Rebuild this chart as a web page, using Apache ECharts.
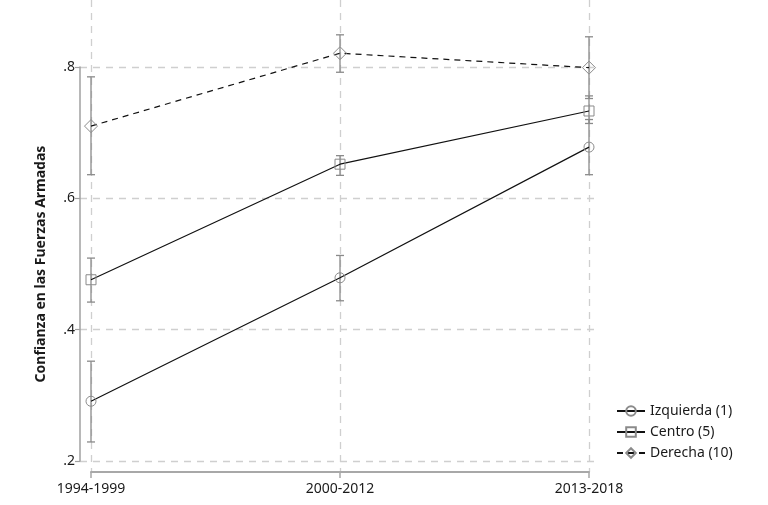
<!DOCTYPE html>
<html><head><meta charset="utf-8">
<script src="https://cdn.jsdelivr.net/npm/echarts@6/dist/echarts.min.js"></script>
<style>html,body{margin:0;padding:0;background:#fff}#c{width:768px;height:505px}</style>
</head><body><div id="c"></div>
<script>
const categories = ['1994-1999', '2000-2012', '2013-2018'];
const yTicks = [0.2, 0.4, 0.6, 0.8];
const izquierda = [0.291, 0.479, 0.678];
const izquierdaLow = [0.229, 0.444, 0.636];
const izquierdaHigh = [0.352, 0.513, 0.720];
const centro = [0.476, 0.652, 0.733];
const centroLow = [0.442, 0.635, 0.714];
const centroHigh = [0.509, 0.665, 0.756];
const derecha = [0.710, 0.821, 0.799];
const derechaLow = [0.636, 0.792, 0.752];
const derechaHigh = [0.785, 0.849, 0.846];

const FONT = 'Noto Sans';
const chart = echarts.init(document.getElementById('c'));

function errData(lo, hi) { return categories.map((c, i) => [i, lo[i], hi[i]]); }
function errSeries(lo, hi) {
  return {
    type: 'custom', xAxisIndex: 2, yAxisIndex: 2, z: 1, silent: true,
    data: errData(lo, hi),
    renderItem: function (params, api) {
      const x = api.value(0);
      const a = api.coord([x, api.value(1)]);
      const b = api.coord([x, api.value(2)]);
      const w = 4;
      const st = { stroke: '#8a8a8a', lineWidth: 1.3 };
      return { type: 'group', children: [
        { type: 'line', shape: { x1: a[0], y1: a[1], x2: b[0], y2: b[1] }, style: st },
        { type: 'line', shape: { x1: a[0] - w, y1: a[1], x2: a[0] + w, y2: a[1] }, style: st },
        { type: 'line', shape: { x1: b[0] - w, y1: b[1], x2: b[0] + w, y2: b[1] }, style: st }
      ]};
    }
  };
}
function lineSeries(name, data, symbol, size, dashed) {
  return {
    name: name, type: 'line', xAxisIndex: 2, yAxisIndex: 2, z: 3,
    data: data, symbol: symbol, symbolSize: size, clip: false,
    lineStyle: { color: '#111', width: 1.2, type: dashed ? [6, 5] : 'solid' },
    itemStyle: { color: 'rgba(255,255,255,0)', borderColor: '#8a8a8a', borderWidth: 1 },
    emphasis: { disabled: true }
  };
}

const option = {
  animation: false,
  textStyle: { fontFamily: FONT },
  grid: [
    { left: 80, right: 168, top: 67, bottom: 44 },
    { left: 91, right: 179, top: 0, bottom: 33 },
    { left: 91, right: 179, top: 67, bottom: 44 }
  ],
  xAxis: [
    { gridIndex: 0, type: 'value', show: false, min: 0, max: 1 },
    { gridIndex: 1, type: 'category', data: categories, boundaryGap: false,
      axisLine: { show: true, lineStyle: { color: '#a8a8a8', width: 2 } },
      axisTick: { show: true, length: 6, lineStyle: { color: '#a8a8a8', width: 1.5 } },
      axisLabel: { color: '#1a1a1a', fontSize: 14, fontFamily: FONT, margin: 10 },
      splitLine: { show: true, lineStyle: { color: '#cfcfcf', width: 1.3, type: [7, 6] } } },
    { gridIndex: 2, type: 'category', data: categories, boundaryGap: false, show: false }
  ],
  yAxis: [
    { gridIndex: 0, type: 'value', min: 0.2, max: 0.8, interval: 0.2,
      name: 'Confianza en las Fuerzas Armadas', nameLocation: 'middle', nameGap: 32,
      nameTextStyle: { color: '#1a1a1a', fontSize: 14, fontWeight: 'bold', fontFamily: FONT },
      axisLine: { show: true, lineStyle: { color: '#a0a0a0', width: 1.5 } },
      axisTick: { show: true, length: 5, lineStyle: { color: '#a0a0a0', width: 1.2 } },
      axisLabel: { color: '#1a1a1a', fontSize: 14, fontFamily: FONT, margin: 5,
        formatter: v => { const t = yTicks.find(k => Math.abs(k - v) < 1e-9); return t === undefined ? '' : t.toFixed(1).replace(/^0/, ''); } },
      splitLine: { show: true, lineStyle: { color: '#cfcfcf', width: 1.3, type: [7, 6] } } },
    { gridIndex: 1, type: 'value', show: false, splitLine: { show: false } },
    { gridIndex: 2, type: 'value', min: 0.2, max: 0.8, show: false, splitLine: { show: false } }
  ],
  legend: {
    orient: 'vertical', left: 611, top: 399, itemGap: 7, itemWidth: 28, itemHeight: 12,
    textStyle: { color: '#1a1a1a', fontSize: 14, fontFamily: FONT },
    data: ['Izquierda (1)', 'Centro (5)', 'Derecha (10)']
  },
  series: [
    errSeries(izquierdaLow, izquierdaHigh),
    errSeries(centroLow, centroHigh),
    errSeries(derechaLow, derechaHigh),
    lineSeries('Izquierda (1)', izquierda, 'circle', 10, false),
    lineSeries('Centro (5)', centro, 'rect', 10, false),
    lineSeries('Derecha (10)', derecha, 'diamond', 13, true)
  ]
};
chart.setOption(option);
</script></body></html>
